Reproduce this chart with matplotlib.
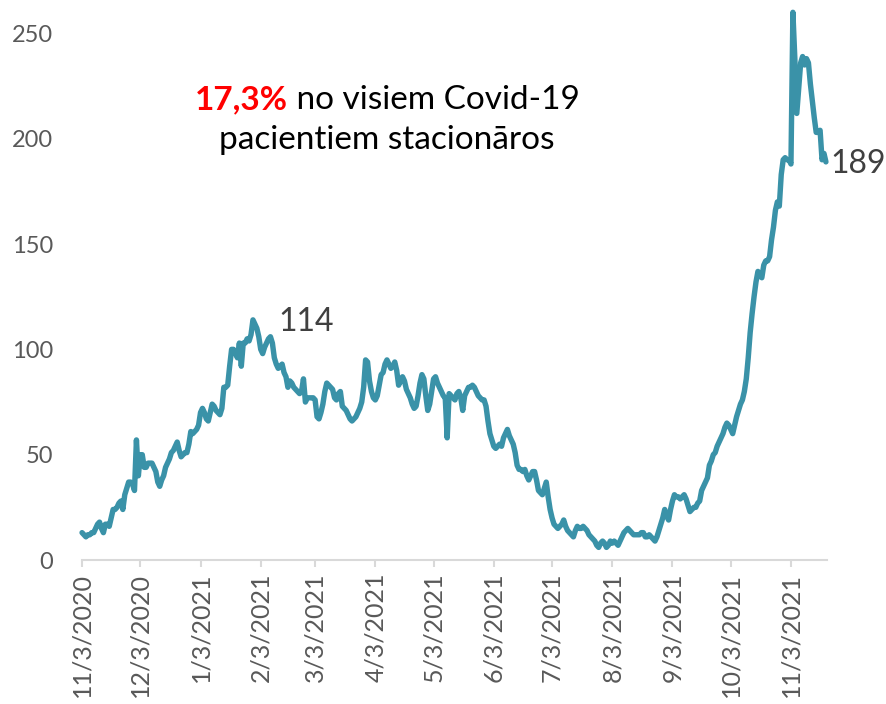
import numpy as np
import pandas as pd
import matplotlib
matplotlib.use("Agg")
import matplotlib.pyplot as plt

plt.rcParams['font.family'] = ['Lato', 'DejaVu Sans']

# daily values (hospitalised patients), 3 Nov 2020 .. 21 Nov 2021
nov20 = [13, 12, 11, 12, 12, 13, 13, 15, 17, 18, 15, 13, 17, 17, 16, 20, 24, 24, 25, 27,
         28, 24, 31, 34, 37, 37, 36, 33]
dec20 = [57, 40, 50, 50, 44, 44, 46, 46, 46, 44, 42, 37, 35, 38, 40, 44, 46, 48, 51, 52,
         54, 56, 52, 49, 50, 51, 51, 55, 61, 60, 61]
jan21 = [62, 64, 70, 72, 70, 67, 66, 70, 74, 73, 71, 70, 69, 72, 82, 82, 83, 92, 100, 100,
         98, 96, 103, 92, 103, 103, 105, 104, 107, 114, 112]
feb21 = [110, 106, 100, 98, 101, 103, 105, 106, 103, 96, 93, 91, 92, 93, 89, 87, 82, 85,
         84, 82, 81, 80, 79, 80, 86, 75, 77, 77]
mar21 = [77, 77, 76, 68, 67, 70, 74, 80, 84, 83, 82, 81, 77, 76, 79, 80, 73, 72, 71, 69,
         67, 66, 67, 68, 70, 72, 75, 82, 95, 94, 85]
apr21 = [80, 77, 76, 78, 83, 88, 89, 93, 95, 93, 91, 92, 94, 90, 83, 85, 87, 85, 81, 79,
         77, 74, 72, 73, 78, 84, 88, 86, 78, 71]
may21 = [74, 80, 86, 87, 84, 82, 80, 78, 77, 58, 79, 78, 77, 76, 79, 80, 77, 71, 78, 80,
         82, 82, 83, 82, 80, 78, 77, 76, 76, 73, 66]
jun21 = [60, 57, 54, 53, 54, 55, 54, 58, 60, 62, 59, 57, 55, 51, 45, 43, 43, 42, 43, 40,
         38, 40, 42, 42, 38, 33, 32, 31, 34, 37]
jul21 = [30, 24, 20, 17, 16, 15, 16, 17, 19, 16, 14, 13, 12, 11, 14, 16, 15, 15, 16, 15,
         14, 12, 11, 10, 9, 7, 6, 8, 9, 8, 6]
aug21 = [7, 9, 8, 9, 8, 7, 9, 11, 13, 14, 15, 14, 13, 12, 12, 12, 12, 13, 13, 11,
         11, 12, 11, 10, 9, 11, 14, 17, 20, 24, 21]
sep21 = [19, 24, 28, 31, 30, 30, 29, 30, 31, 29, 26, 23, 24, 25, 25, 27, 28, 33, 35, 37,
         39, 45, 47, 50, 51, 54, 56, 58, 60, 63]
oct21 = [65, 64, 62, 60, 64, 68, 71, 74, 76, 80, 86, 96, 108, 117, 125, 132, 137, 135, 134, 140,
         142, 142, 144, 152, 158, 166, 170, 168, 183, 190, 191]
nov21 = [190, 190, 188, 260, 238, 212, 224, 236, 239, 235, 238, 236, 226, 218, 210, 203, 203, 204,
         190, 193, 189]

values = nov20 + dec20 + jan21 + feb21 + mar21 + apr21 + may21 + jun21 + jul21 + aug21 + sep21 + oct21 + nov21
dates = pd.date_range('2020-11-03', periods=len(values), freq='D')

tick_dates = pd.date_range('2020-11-03', '2021-11-03', freq=pd.DateOffset(months=1))
tick_labels = [f"{d.month}/{d.day}/{d.year}" for d in tick_dates]
y_ticks = [0, 50, 100, 150, 200, 250]

peak_label = "114"
last_label = "189"
note_red = "17,3%"
note_rest = " no visiem Covid-19"
note_line2 = "pacientiem stacionāros"

fig = plt.figure(figsize=(8.86, 7.04), dpi=100)
ax = fig.add_axes([0.0926, 0.2045, 0.8409, 0.784])

ax.plot(dates, values, color='#3a92a8', lw=3.9, solid_joinstyle='round',
        solid_capstyle='round', clip_on=False)

ax.set_ylim(0, 262)
ax.set_xlim(dates[0], dates[0] + pd.Timedelta(days=383.6))
ax.set_yticks(y_ticks)
ax.set_xticks(tick_dates)
ax.set_xticklabels(tick_labels, rotation=90)

for s in ['left', 'right', 'top']:
    ax.spines[s].set_visible(False)
ax.spines['bottom'].set_color('#d9d9d9')
ax.spines['bottom'].set_linewidth(1.5)
ax.tick_params(axis='y', length=0, pad=21, labelsize=17, labelcolor='#595959')
ax.tick_params(axis='x', length=5, width=1.5, color='#d9d9d9', pad=4,
               labelsize=18, labelcolor='#595959')

# data labels
ax.text(dates[0] + pd.Timedelta(days=101), 113, peak_label, fontsize=23,
        color='#404040', va='center', ha='left')
ax.text(dates[0] + pd.Timedelta(days=385.2), 188, last_label, fontsize=23,
        color='#404040', va='center', ha='left')

# note in the middle, first line has a red bold part
fig.canvas.draw()
r = fig.canvas.get_renderer()
t1 = fig.text(0, 0, note_red, fontsize=24, fontweight='bold', color='#ff0000')
t2 = fig.text(0, 0, note_rest, fontsize=24, color='black')
w1 = t1.get_window_extent(r).width
w2 = t2.get_window_extent(r).width
W, H = fig.bbox.width, fig.bbox.height
cx = 387
x0 = cx - (w1 + w2) / 2
y1 = 704 - 100
t1.set_position((x0 / W, y1 / H))
t1.set_va('center')
t2.set_position(((x0 + w1) / W, y1 / H))
t2.set_va('center')
fig.text(cx / W, (704 - 140) / H, note_line2, fontsize=24, color='black',
         ha='center', va='center')

fig.savefig('out.png', dpi=100)
